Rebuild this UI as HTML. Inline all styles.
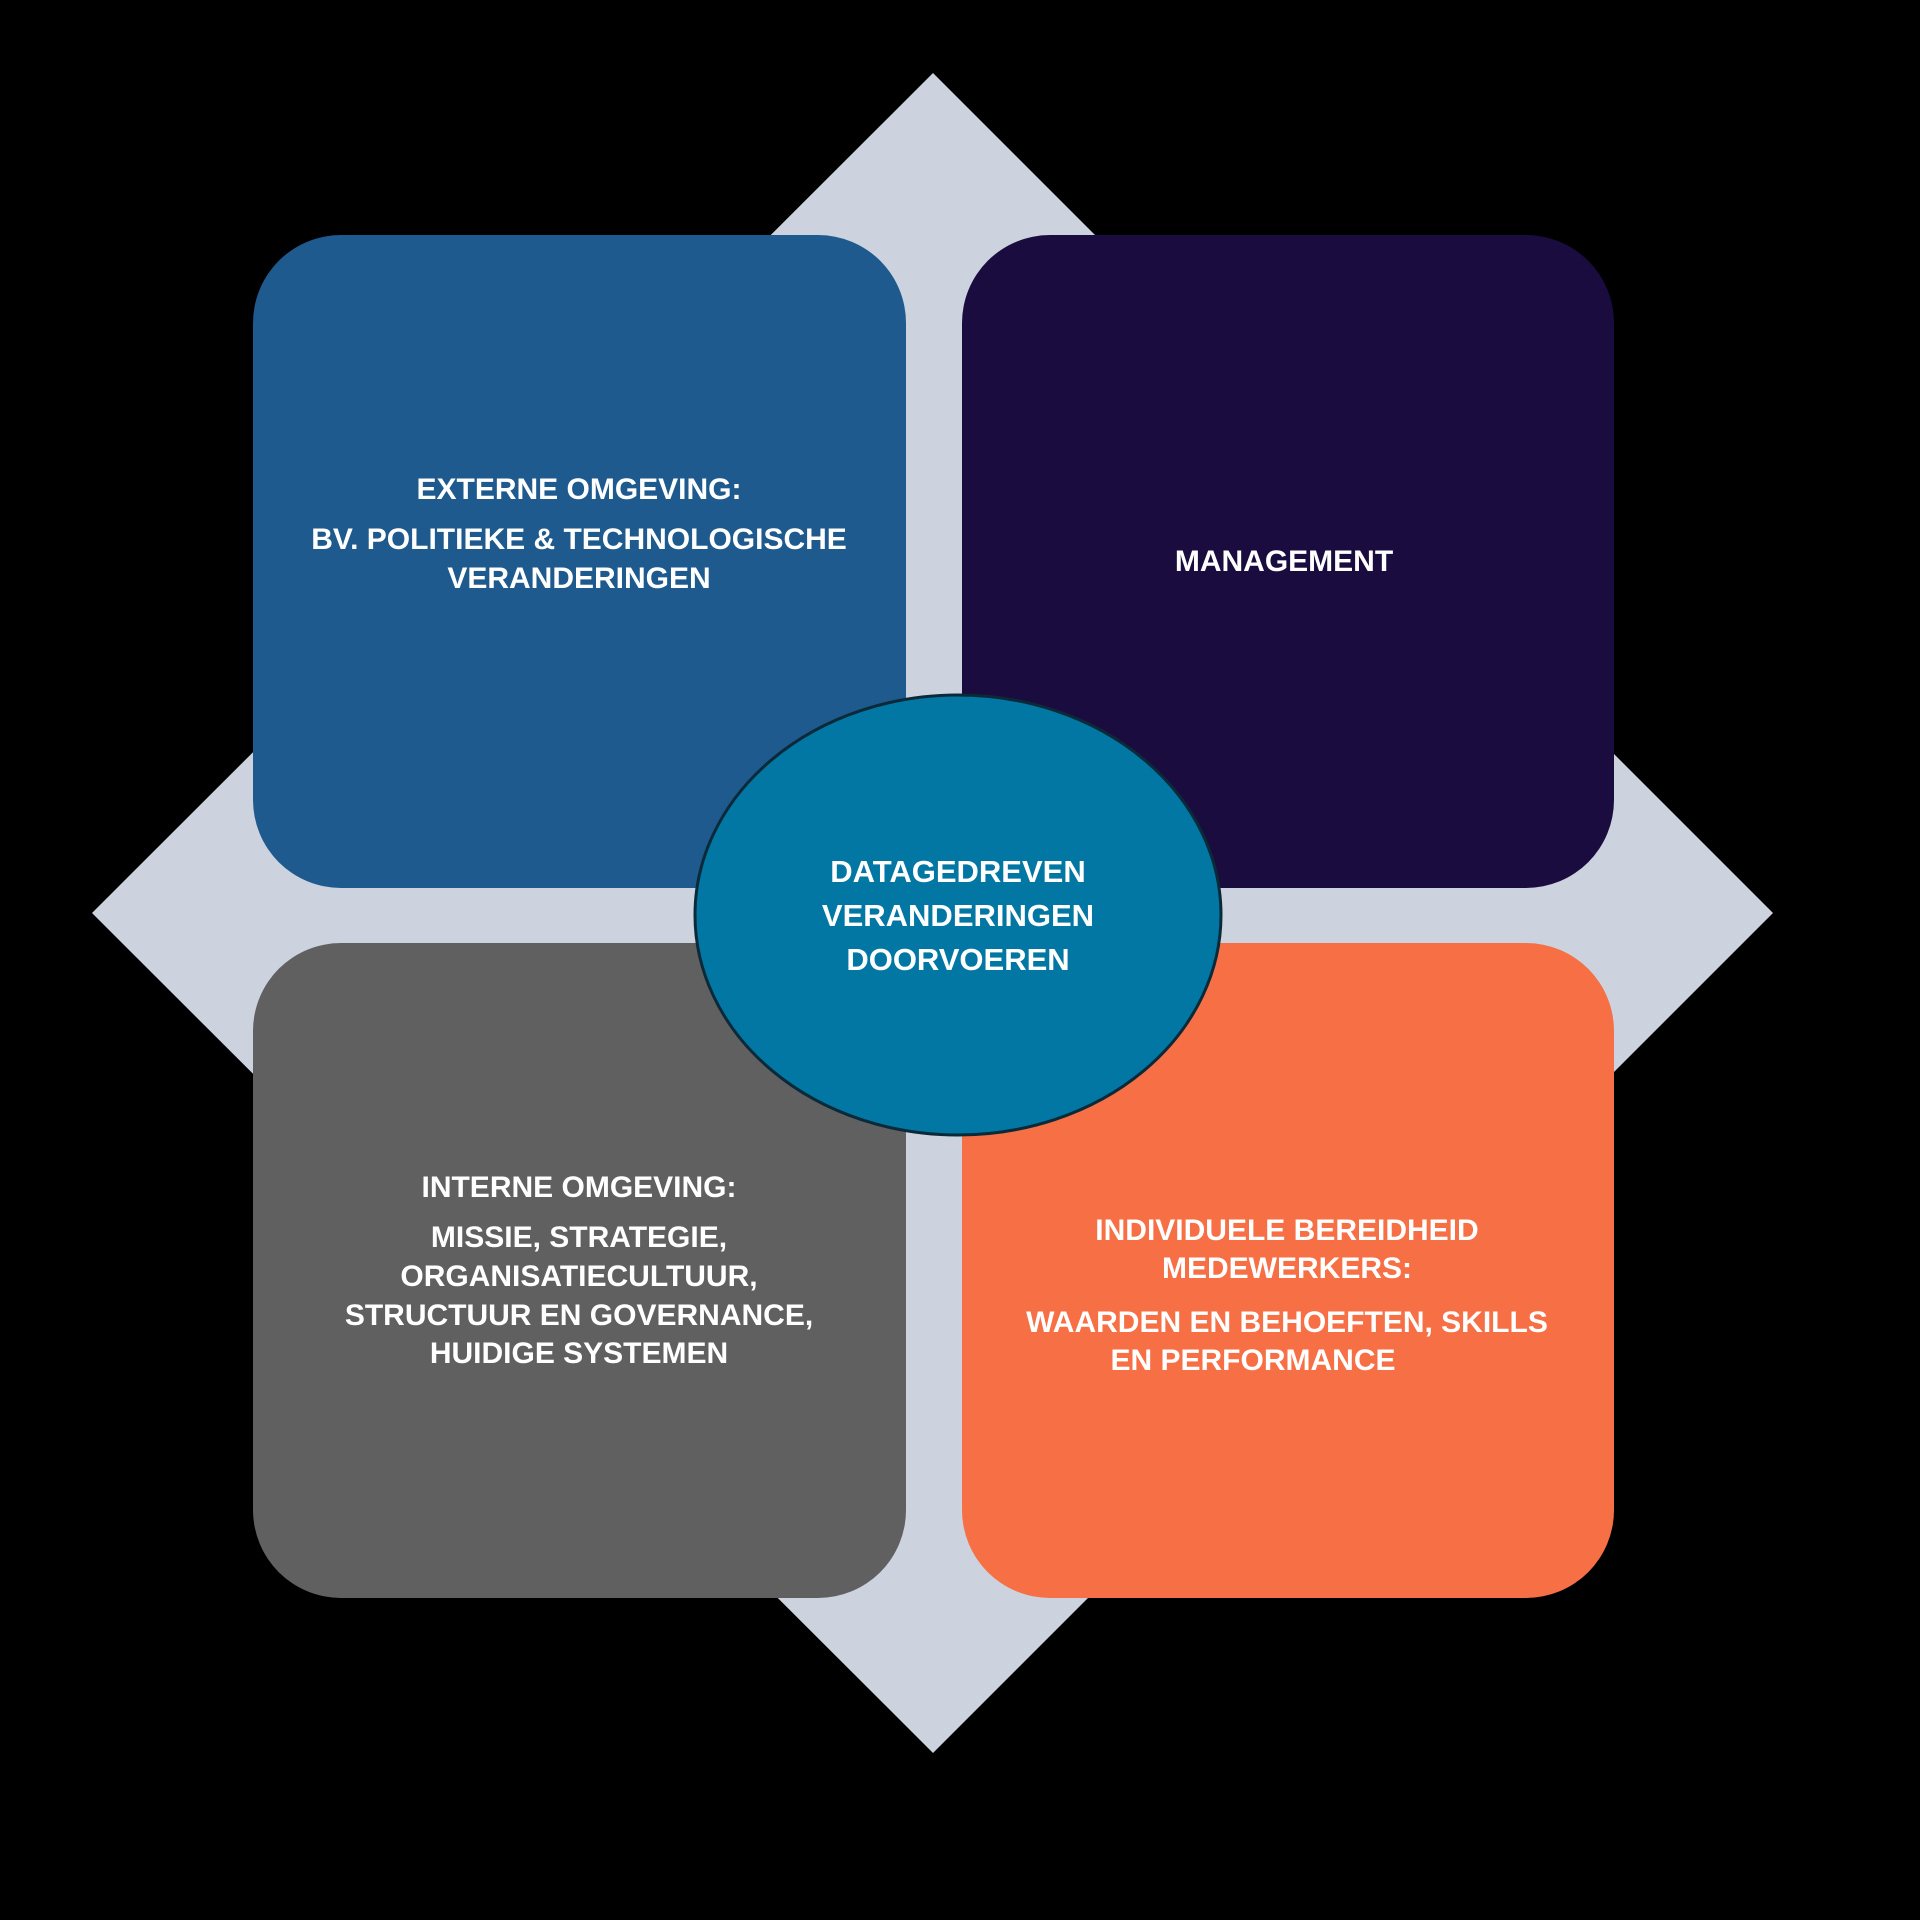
<!DOCTYPE html>
<html><head><meta charset="utf-8"><style>
html,body{margin:0;padding:0;background:#000;}
svg{display:block}
text{font-family:"Liberation Sans",sans-serif;font-weight:bold;fill:#fff;font-size:30px;text-anchor:middle;letter-spacing:0px}
</style></head><body>
<svg width="1920" height="1920" viewBox="0 0 1920 1920">
<rect width="1920" height="1920" fill="#000"/>
<polygon points="933,73 1773,913 933,1753 92,913" fill="#ccd3de"/>
<rect x="253" y="235" width="653" height="653" rx="88" fill="#1e5a8e"/>
<rect x="962" y="235" width="652" height="653" rx="88" fill="#1b0c40"/>
<rect x="253" y="943" width="653" height="655" rx="88" fill="#606060"/>
<rect x="962" y="943" width="652" height="655" rx="88" fill="#f76f45"/>
<ellipse cx="958" cy="915" rx="263" ry="220" fill="#0277a3" stroke="#0a2a3a" stroke-width="3"/>
<text x="579" y="499">EXTERNE OMGEVING:</text>
<text x="579" y="549">BV. POLITIEKE &amp; TECHNOLOGISCHE</text>
<text x="579" y="588">VERANDERINGEN</text>
<text x="1284" y="571">MANAGEMENT</text>
<text x="958" y="882" style="font-size:31px">DATAGEDREVEN</text>
<text x="958" y="926" style="font-size:31px">VERANDERINGEN</text>
<text x="958" y="970" style="font-size:31px">DOORVOEREN</text>
<text x="579" y="1197">INTERNE OMGEVING:</text>
<text x="579" y="1247">MISSIE, STRATEGIE,</text>
<text x="579" y="1286">ORGANISATIECULTUUR,</text>
<text x="579" y="1325">STRUCTUUR EN GOVERNANCE,</text>
<text x="579" y="1363">HUIDIGE SYSTEMEN</text>
<text x="1287" y="1240">INDIVIDUELE BEREIDHEID</text>
<text x="1287" y="1278">MEDEWERKERS:</text>
<text x="1287" y="1332">WAARDEN EN BEHOEFTEN, SKILLS</text>
<text x="1253" y="1370">EN PERFORMANCE</text>
</svg>
</body></html>
